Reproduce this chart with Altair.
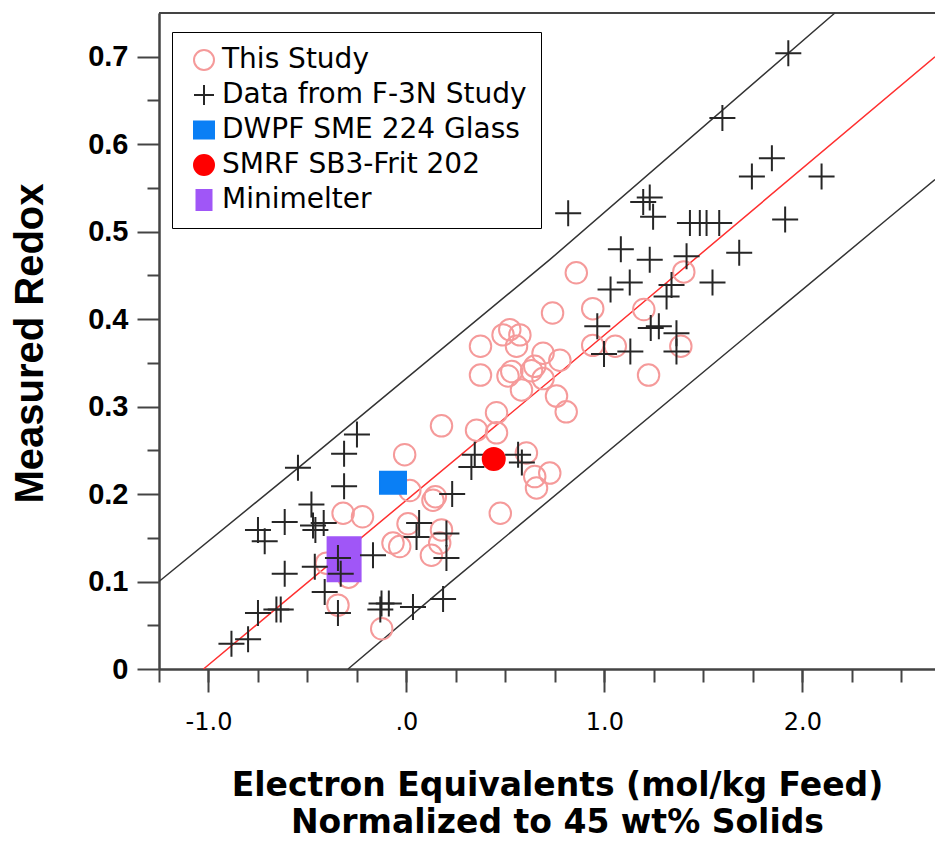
import altair as alt
import pandas as pd

# ---------------- data ----------------
study_x = [0.858, 1.401, 0.738, 0.941, 1.199, 0.941, 1.055, 1.386, 1.223, 0.374,
           0.374, 0.522, 0.488, 0.573, 0.556, 0.532, 0.513, 0.648, 0.632, 0.690,
           0.775, 0.690, 0.581, 0.758, 0.807, 0.455, 0.177, 0.354, 0.455, -0.009,
           0.606, 0.648, 0.724, 0.657, 0.474, 0.017, 0.134, 0.146, 0.008, 0.177,
           0.168, 0.126, -0.034, -0.068, -0.320, -0.222, -0.404, -0.292, -0.346, -0.125]
study_y = [0.453, 0.454, 0.407, 0.412, 0.411, 0.370, 0.369, 0.369, 0.336, 0.369,
           0.336, 0.388, 0.382, 0.382, 0.369, 0.340, 0.335, 0.346, 0.341, 0.361,
           0.353, 0.332, 0.319, 0.312, 0.294, 0.293, 0.278, 0.273, 0.270, 0.245,
           0.247, 0.220, 0.224, 0.207, 0.178, 0.204, 0.193, 0.197, 0.166, 0.159,
           0.144, 0.130, 0.140, 0.144, 0.178, 0.174, 0.121, 0.105, 0.073, 0.046]

f3n_x = [1.929, 1.596, 1.846, 1.745, 2.097, 0.817, 1.196, 1.229, 1.246, 1.432,
         1.482, 1.516, 1.580, 1.913, 1.083, 1.229, 1.415, 1.681, 1.128, 1.031,
         1.339, 1.314, 1.546, 0.964, 1.234, 1.275, 1.364, 0.998, 1.131, 1.364,
         0.345, 0.328, 0.564, 0.583, 0.231, 0.064, 0.051, 0.202, 0.202, 0.185,
         0.033, -0.126, -0.089, -0.132, -0.250, -0.315, -0.548, -0.315, -0.480, -0.615,
         -0.472, -0.418, -0.460, -0.750, -0.716, -0.615, -0.463, -0.346, -0.332, -0.413,
         -0.346, -0.169, -0.750, -0.657, -0.635, -0.884, -0.800]
f3n_y = [0.704, 0.630, 0.584, 0.563, 0.563, 0.521, 0.534, 0.539, 0.517, 0.510,
         0.510, 0.510, 0.510, 0.514, 0.480, 0.468, 0.472, 0.476, 0.442, 0.434,
         0.439, 0.426, 0.442, 0.392, 0.390, 0.392, 0.384, 0.360, 0.363, 0.363,
         0.245, 0.231, 0.245, 0.236, 0.200, 0.167, 0.151, 0.155, 0.127, 0.080,
         0.071, 0.075, 0.075, 0.068, 0.268, 0.246, 0.230, 0.209, 0.188, 0.168,
         0.164, 0.167, 0.159, 0.159, 0.146, 0.109, 0.117, 0.127, 0.109, 0.088,
         0.064, 0.130, 0.064, 0.068, 0.068, 0.029, 0.034]

dwpf_x = [-0.068]
dwpf_y = [0.213]
smrf_x = [0.441]
smrf_y = [0.240]
mini_x = [-0.315]
mini_y = [0.1255]

fit_x = [-1.025, 0.775, 2.67]
fit_y = [0.0, 0.339, 0.700]
upper_x = [-1.25, -0.539, 0.724, 2.164]
upper_y = [0.100, 0.2314, 0.468, 0.750]
lower_x = [-0.295, 0.219, 2.425, 2.67]
lower_y = [0.0, 0.0984, 0.5136, 0.5595]

names = ["This Study", "Data from F-3N Study", "DWPF SME 224 Glass",
         "SMRF SB3-Frit 202", "Minimelter"]

x_major = [-1.0, 0.0, 1.0, 2.0]
x_minor = [-1.25 + 0.25 * i for i in range(16)]
y_major = [round(0.1 * i, 2) for i in range(8)]
y_minor = [round(0.05 + 0.1 * i, 2) for i in range(7)]

# ---------------- tables ----------------
def frame(xs, ys, name):
    return pd.DataFrame({"x": xs, "y": ys, "series": name})

points_df = pd.concat([
    frame(study_x, study_y, names[0]),
    frame(mini_x, mini_y, names[4]),
    frame(f3n_x, f3n_y, names[1]),
    frame(dwpf_x, dwpf_y, names[2]),
    frame(smrf_x, smrf_y, names[3]),
], ignore_index=True)

fit_df = pd.DataFrame({"x": fit_x, "y": fit_y})
band_df = pd.concat([
    pd.DataFrame({"x": upper_x, "y": upper_y, "band": "upper"}),
    pd.DataFrame({"x": lower_x, "y": lower_y, "band": "lower"}),
], ignore_index=True)

xscale = alt.Scale(domain=[-1.25, 2.67], nice=False, zero=False)
yscale = alt.Scale(domain=[0, 0.75], nice=False, zero=False)

cross = "M-1,0L1,0M0,-1L0,1"
rect_blue = "M-1,-0.85L1,-0.85L1,0.85L-1,0.85Z"
rect_purple = "M-0.75,-1L0.75,-1L0.75,1L-0.75,1Z"

shapes = ["circle", cross, rect_blue, "circle", rect_purple]
fills = ["transparent", "transparent", "#0a7ff5", "#ff0000", "#a056f7"]
strokes = ["#f59a9a", "#262626", "#0a7ff5", "#ff0000", "#a056f7"]
sizes = [462, 676, 676, 484, 1936]

# ---------------- layers ----------------
frame_top = alt.Chart(fit_df).mark_rule(color="#444", strokeWidth=2).encode(
    y=alt.value(0)
)

red = alt.Chart(fit_df).mark_line(color="#ff3030", strokeWidth=1.5).encode(
    x=alt.X("x:Q", scale=xscale, axis=alt.Axis(
        orient="bottom", values=x_major, tickSize=23, grid=False,
        labelExpr="datum.value == 0 ? '.0' : (datum.value < 0 ? '-' + format(-datum.value, '.1f') : format(datum.value, '.1f'))",
        labelFont="DejaVu Sans", labelFontSize=24, labelPadding=18, labelColor="black",
        title=["Electron Equivalents (mol/kg Feed)", "Normalized to 45 wt% Solids"],
        titleFont="DejaVu Sans", titleFontSize=33, titleFontWeight="bold", titleColor="black",
        titleX=398, titleY=126, titleBaseline="alphabetic", titleAlign="center",
        titleLineHeight=37,
    )),
    y=alt.Y("y:Q", scale=yscale, axis=alt.Axis(
        orient="left", values=y_major, tickSize=22, grid=False,
        labelExpr="datum.value == 0 ? '0' : format(datum.value, '.1f')",
        labelFont="Liberation Sans", labelFontWeight="bold", labelFontSize=29,
        labelPadding=9, labelColor="black",
        title="Measured Redox", titleFont="Liberation Sans", titleFontSize=40,
        titleFontWeight="bold", titleColor="black",
        titleX=-117, titleY=330, titleAngle=270, titleBaseline="alphabetic",
        titleAlign="center",
    )),
)

black = alt.Chart(band_df).mark_line(color="#333333", strokeWidth=1.5).encode(
    x=alt.X("x:Q", scale=xscale, axis=alt.Axis(
        orient="bottom", values=x_minor, tickSize=13, labels=False, title=None, grid=False)),
    y=alt.Y("y:Q", scale=yscale, axis=alt.Axis(
        orient="left", values=y_minor, tickSize=12, labels=False, title=None, grid=False)),
    detail="band:N",
)

# size scale listed in reverse order so that it is not merged with the legend
pts = alt.Chart(points_df).mark_point(opacity=1, strokeWidth=2).encode(
    x=alt.X("x:Q", scale=xscale, axis=None),
    y=alt.Y("y:Q", scale=yscale, axis=None),
    shape=alt.Shape("series:N", scale=alt.Scale(domain=names, range=shapes),
                    legend=alt.Legend(title=None)),
    fill=alt.Fill("series:N", scale=alt.Scale(domain=names, range=fills),
                  legend=alt.Legend(title=None)),
    stroke=alt.Stroke("series:N", scale=alt.Scale(domain=names, range=strokes),
                      legend=alt.Legend(title=None)),
    size=alt.Size("series:N", scale=alt.Scale(type="ordinal", domain=names[::-1],
                                              range=sizes[::-1]),
                  legend=None),
)

chart = alt.layer(frame_top, red, black, pts).resolve_axis(
    x="independent", y="independent"
).properties(
    width=776, height=656,
    padding={"left": 151, "top": 5, "right": 0, "bottom": 171},
    autosize=alt.AutoSizeParams(type="none"),
).configure_view(stroke=None).configure_axis(
    domainColor="#444", domainWidth=2, tickColor="#444", tickWidth=2,
).configure_legend(
    orient="none", legendX=13, legendY=19,
    padding=14, strokeColor="black", fillColor="white",
    labelFont="DejaVu Sans", labelFontSize=28, labelColor="black",
    symbolSize=400, symbolStrokeWidth=2, symbolOffset=4, labelOffset=4,
    rowPadding=7, labelLimit=600,
)

chart.save("out.html", embed_options={"renderer": "svg", "actions": False})
